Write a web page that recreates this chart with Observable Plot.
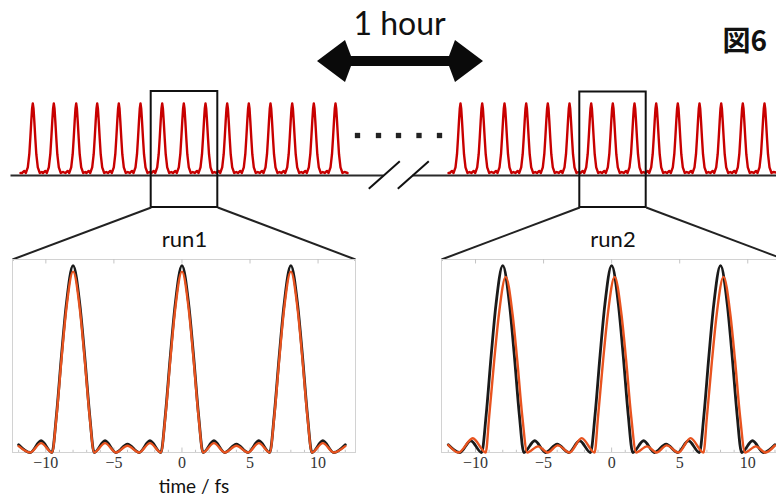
<!DOCTYPE html>
<html><head><meta charset="utf-8">
<script src="https://cdn.jsdelivr.net/npm/d3@7"></script>
<script src="https://cdn.jsdelivr.net/npm/@observablehq/plot@0.6"></script>
<style>
html,body{margin:0;padding:0;background:#fff;overflow:hidden;}
#wrap{position:relative;width:776px;height:496px;overflow:hidden;background:#fff;}
#wrap > .layer{position:absolute;}
</style></head><body><div id="wrap"></div>
<script>
// ---- pulse train (positions of pulse peaks along the schematic time line) ----
const leftPulses  = [32.3, 53.3, 75.7, 96.7, 118.3, 140, 161.7, 183.3, 205, 226.7, 248.3, 270, 291.7, 313.3, 335];
const rightPulses = [460, 481.7, 504, 525.7, 547.3, 569, 590.7, 612.3, 634, 655.7, 677.3, 699, 720.7, 742.3, 764];
// shape of one pulse (offset from the peak, relative height)
const pulseOffset = [-10.8, -8.5, -7, -5, -3.5, -2.5, -1.5, -0.7, 0, 0.7, 1.5, 2.5, 3.5, 5, 7, 9];
const pulseHeight = [0, 0.03, 0, 0.08, 0.27, 0.5, 0.75, 0.93, 1, 0.93, 0.75, 0.5, 0.27, 0.08, 0, 0.015];

// ---- inset waveforms (time / fs, intensity) ----
const refT = [-12, -11.15, -10.35, -9.55, -9.22, -8.85, -8.5, -8, -7.5, -7.15, -6.78, -6.45, -5.65, -4.85, -4, -3.15, -2.35, -1.55, -1.22, -0.85, -0.5, 0, 0.5, 0.85, 1.22, 1.55, 2.35, 3.15, 4, 4.85, 5.65, 6.45, 6.78, 7.15, 7.5, 8, 8.5, 8.85, 9.22, 9.55, 10.35, 11.15, 12];
const refV = [0.042, 0, 0.063, 0, 0.2, 0.52, 0.79, 1, 0.79, 0.52, 0.2, 0, 0.063, 0, 0.045, 0, 0.063, 0, 0.2, 0.52, 0.79, 1, 0.79, 0.52, 0.2, 0, 0.063, 0, 0.045, 0, 0.063, 0, 0.2, 0.52, 0.79, 1, 0.79, 0.52, 0.2, 0, 0.063, 0, 0.042];
const run1V = [0.034, 0, 0.05, 0, 0.19, 0.5, 0.765, 0.968, 0.765, 0.5, 0.19, 0, 0.05, 0, 0.036, 0, 0.05, 0, 0.19, 0.5, 0.765, 0.968, 0.765, 0.5, 0.19, 0, 0.05, 0, 0.036, 0, 0.05, 0, 0.19, 0.5, 0.765, 0.968, 0.765, 0.5, 0.19, 0, 0.05, 0, 0.034];
const run2T = [-12.0, -11.25, -10.2, -9.25, -9.0, -8.63, -8.28, -7.78, -7.28, -6.93, -6.56, -6.2, -5.4, -4.7, -3.95, -3.1, -2.2, -1.25, -1.0, -0.63, -0.28, 0.22, 0.72, 1.07, 1.44, 1.8, 2.6, 3.3, 4.05, 4.9, 5.8, 6.75, 7.0, 7.37, 7.72, 8.22, 8.72, 9.07, 9.44, 9.8, 10.6, 11.3, 12.0];
const run2V = [0.04, 0, 0.076, 0, 0.19, 0.49, 0.74, 0.94, 0.74, 0.49, 0.19, 0, 0.033, 0, 0.038, 0, 0.077, 0, 0.19, 0.49, 0.74, 0.94, 0.74, 0.49, 0.19, 0, 0.033, 0, 0.038, 0, 0.077, 0, 0.19, 0.49, 0.74, 0.94, 0.74, 0.49, 0.19, 0, 0.033, 0, 0.038];

// ---- tick labels / texts ----
const xTicks = [-10, -5, 0, 5, 10];
const minorTicks = [-12,-11,-9,-8,-7,-6,-4,-3,-2,-1,1,2,3,4,6,7,8,9,11,12];
const runLabels = ["run1", "run2"];
const gapLabel = "1 hour";
const figLabel = "図6";
const axisLabel = "time / fs";

// ---------------------------------------------------------------
const W = 776, H = 496;
const wrap = document.getElementById("wrap");

function train(pulses, start, end) {
  const pts = [{x: start, h: 0}];
  for (const c of pulses) pulseOffset.forEach((o, i) => pts.push({x: c + o, h: pulseHeight[i]}));
  pts.push({x: end, h: 0});
  return pts;
}
const base = 172.5, amp = 69.5;
const trainL = train(leftPulses, 20, 347);
const trainR = train(rightPulses, 448, 778);

// boxes around three pulses of each train
const boxes = [
  {x1: leftPulses[6] - 11, x2: leftPulses[8] + 12.3, y1: 91, y2: 207},
  {x1: rightPulses[6] - 11.4, x2: rightPulses[8] + 11.7, y1: 91.5, y2: 207}
];
const zoomLines = [
  {x1: boxes[0].x1, y1: 207, x2: 12, y2: 259},
  {x1: boxes[0].x2, y1: 207, x2: 355, y2: 259},
  {x1: boxes[1].x1, y1: 207, x2: 441, y2: 259},
  {x1: boxes[1].x2, y1: 207, x2: 784, y2: 259}
];
const baselines = [
  {x1: 10, x2: 383, y: 175},
  {x1: 412, x2: 780, y: 175}
];
const slashes = [
  {x1: 368.3, y1: 188.3, x2: 399.3, y2: 160.7},
  {x1: 397.3, y1: 188.3, x2: 428.3, y2: 160.7}
];
const dots = [357, 378, 398, 418.5, 439];
const arrow = [
  {x: 317, h: 0}, {x: 345, h: 21}, {x: 351, h: 5}, {x: 449, h: 5}, {x: 455, h: 21}, {x: 483, h: 0}
];
const arrowY = 61;

const schematic = Plot.plot({
  width: W, height: H, margin: 0,
  x: {domain: [0, W], range: [0, W], axis: null},
  y: {domain: [0, H], range: [0, H], axis: null},
  style: {background: "transparent"},
  marks: [
    Plot.link(baselines, {x1: "x1", x2: "x2", y1: "y", y2: "y", stroke: "#2a2a2a", strokeWidth: 2}),
    Plot.line(trainL, {x: "x", y: d => base - d.h * amp, stroke: "#c80000", strokeWidth: 2.4, curve: "linear"}),
    Plot.line(trainR, {x: "x", y: d => base - d.h * amp, stroke: "#c80000", strokeWidth: 2.4, curve: "linear"}),
    Plot.link(slashes, {x1: "x1", y1: "y1", x2: "x2", y2: "y2", stroke: "#111", strokeWidth: 2}),
    Plot.dot(dots, {x: d => d, y: 135, symbol: "square", r: 3, fill: "#222", stroke: "none"}),
    Plot.rect(boxes, {x1: "x1", x2: "x2", y1: "y1", y2: "y2", fill: "none", stroke: "#111", strokeWidth: 2}),
    Plot.link(zoomLines, {x1: "x1", y1: "y1", x2: "x2", y2: "y2", stroke: "#222", strokeWidth: 2}),
    Plot.text(runLabels, {x: (d, i) => (boxes[i].x1 + boxes[i].x2) / 2, y: 239, text: d => d, fontSize: 22, fontFamily: "Lato", fill: "#111"}),
    Plot.area(arrow, {x1: "x", y1: d => arrowY - d.h, y2: d => arrowY + d.h, fill: "#0a0a0a", curve: "linear"}),
    Plot.text([gapLabel], {x: 399, y: 24, text: d => d, fontSize: 32, fontFamily: "Lato", fill: "#111"}),
    Plot.text([figLabel], {x: 722, y: 42, text: d => d, textAnchor: "start", fontSize: 28, fontWeight: "bold", fontFamily: "Noto Sans CJK JP", fill: "#111"})
  ]
});
schematic.classList.add("layer");
schematic.style.left = "0px"; schematic.style.top = "0px";
wrap.appendChild(schematic);

const fmt = d => d < 0 ? "\u2212" + (-d) : String(d);

function inset(refSeries, runT, runV, xDomain, withLabel) {
  const ref = refT.map((t, i) => ({t, v: refSeries[i]}));
  const run = runT.map((t, i) => ({t, v: runV[i]}));
  const marks = [
    Plot.frame({stroke: "#d2d2d2", strokeWidth: 1}),
    Plot.ruleX(minorTicks, {x: d => d, y1: 0, y2: 0.012, stroke: "#c4c4c4"}),
    Plot.ruleX(xTicks, {x: d => d, y1: 0, y2: 0.024, stroke: "#c4c4c4"}),
    Plot.ruleX(xTicks, {x: d => d, y1: 1.033, y2: 1.009, stroke: "#c4c4c4"}),
    Plot.line(ref, {x: "t", y: "v", stroke: "#1a1a1a", strokeWidth: 2.8, curve: "monotone-x"}),
    Plot.line(run, {x: "t", y: "v", stroke: "#e8531f", strokeWidth: 2.4, curve: "monotone-x"}),
    Plot.text(xTicks, {x: d => d, y: 0, dy: 10, text: fmt, fontSize: 16, fontFamily: "Liberation Serif", fill: "#333"})
  ];
  if (withLabel) marks.push(Plot.text([axisLabel], {frameAnchor: "bottom", dx: 10, dy: 40, lineAnchor: "bottom", text: d => d, fontSize: 19, fontFamily: "Lato", fill: "#111"}));
  return Plot.plot({
    width: 343, height: 237,
    marginTop: 0, marginRight: 0, marginBottom: 44, marginLeft: 0,
    style: {background: "transparent", overflow: "visible"},
    x: {domain: xDomain, axis: null},
    y: {domain: [0, 1.033], axis: null},
    marks
  });
}

const in1 = inset(refV, refT, run1V, [-12.45, 12.75], true);
in1.classList.add("layer"); in1.style.left = "12px"; in1.style.top = "259px";
wrap.appendChild(in1);
const in2 = inset(refV, run2T, run2V, [-12.5, 12.7], false);
in2.classList.add("layer"); in2.style.left = "441px"; in2.style.top = "259px";
wrap.appendChild(in2);
</script></body></html>
